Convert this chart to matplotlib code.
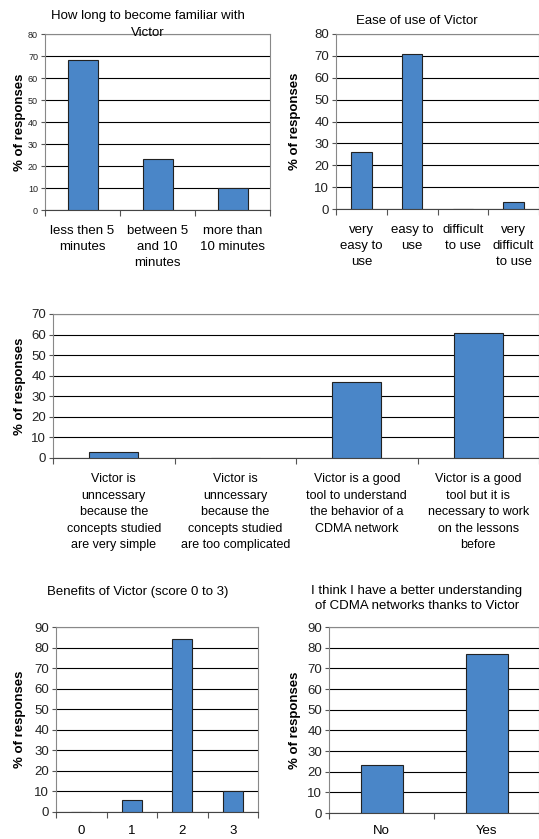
import matplotlib
matplotlib.use("Agg")
import matplotlib.pyplot as plt
import numpy as np

plt.rcParams['font.family'] = ['Liberation Sans', 'DejaVu Sans']

W, H = 539, 839
BAR_COLOR = '#4a86c8'

# data
familiar_labels = ['less then 5\nminutes', 'between 5\nand 10\nminutes', 'more than\n10 minutes']
familiar_values = [68, 23, 10]

ease_labels = ['very\neasy to\nuse', 'easy to\nuse', 'difficult\nto use', 'very\ndifficult\nto use']
ease_values = [26, 71, 0, 3]

opinion_labels = ['Victor is\nunncessary\nbecause the\nconcepts studied\nare very simple',
                  'Victor is\nunncessary\nbecause the\nconcepts studied\nare too complicated',
                  'Victor is a good\ntool to understand\nthe behavior of a\nCDMA network',
                  'Victor is a good\ntool but it is\nnecessary to work\non the lessons\nbefore']
opinion_values = [3, 0, 37, 61]

benefit_labels = ['0', '1', '2', '3']
benefit_values = [0, 6, 84, 10]

understand_labels = ['No', 'Yes']
understand_values = [23, 77]


def px_axes(fig, l, t, r, b):
    return fig.add_axes([l / W, 1 - b / H, (r - l) / W, (b - t) / H])


def bar_panel(fig, box, labels, values, ymax, ystep, ytick_size, xlab_size, ylab_x,
              spacing=1.45, pad=11):
    ax = px_axes(fig, *box)
    x = np.arange(len(values))
    ax.bar(x, values, width=0.4, color=BAR_COLOR, edgecolor='#222222', linewidth=0.8, zorder=3)
    ax.set_xlim(-0.5, len(values) - 0.5)
    ax.set_ylim(0, ymax)
    ax.set_yticks(np.arange(0, ymax + 1, ystep))
    ax.yaxis.grid(True, color='black', linewidth=0.8, zorder=0)
    ax.set_axisbelow(True)
    # labels sit under the bars, tick marks between categories
    ax.set_xticks(x)
    ax.set_xticklabels(labels, fontsize=xlab_size, linespacing=spacing)
    ax.set_xticks(np.arange(len(values) + 1) - 0.5, minor=True)
    ax.tick_params(axis='x', which='major', length=0, pad=pad)
    ax.tick_params(axis='x', which='minor', length=4, color='#555555', width=0.8)
    ax.tick_params(axis='y', labelsize=ytick_size, length=3, color='#555555', pad=2,
                   labelcolor='#222222')
    for s in ax.spines.values():
        s.set_color('#888888')
        s.set_linewidth(0.8)
    ax.spines['bottom'].set_color('#444444')
    yc = (box[1] + box[3]) / 2
    fig.text(ylab_x / W, 1 - yc / H, '% of responses', rotation=90, ha='center', va='center',
             fontsize=9.5, fontweight='bold')
    return ax


fig = plt.figure(figsize=(W / 100, H / 100), dpi=100)

# panel 1
bar_panel(fig, (45, 34, 270, 210), familiar_labels, familiar_values, 80, 10, 6.5, 9.5, 20)
fig.text(148 / W, 1 - 16 / H, 'How long to become familiar with', ha='center', va='center', fontsize=9.5)
fig.text(148 / W, 1 - 33 / H, 'Victor', ha='center', va='center', fontsize=9.5)

# panel 2
bar_panel(fig, (336, 34, 539, 209), ease_labels, ease_values, 80, 10, 9.5, 9.5, 295)
fig.text(417 / W, 1 - 21 / H, 'Ease of use of Victor', ha='center', va='center', fontsize=9.5)

# panel 3
bar_panel(fig, (53, 314, 539, 458), opinion_labels, opinion_values, 70, 10, 9.5, 9, 20,
          spacing=1.5, pad=11)

# panel 4
bar_panel(fig, (56, 627, 258, 812), benefit_labels, benefit_values, 90, 10, 9.5, 9.5, 20, pad=9)
fig.text(138 / W, 1 - 592 / H, 'Benefits of Victor (score 0 to 3)', ha='center', va='center', fontsize=9.5)

# panel 5
bar_panel(fig, (329, 627, 539, 813), understand_labels, understand_values, 90, 10, 9.5, 9.5, 295,
          pad=9)
fig.text(417 / W, 1 - 591 / H, 'I think I have a better understanding', ha='center', va='center', fontsize=9.5)
fig.text(417 / W, 1 - 606 / H, 'of CDMA networks thanks to Victor', ha='center', va='center', fontsize=9.5)

fig.savefig('out.png', dpi=100)
